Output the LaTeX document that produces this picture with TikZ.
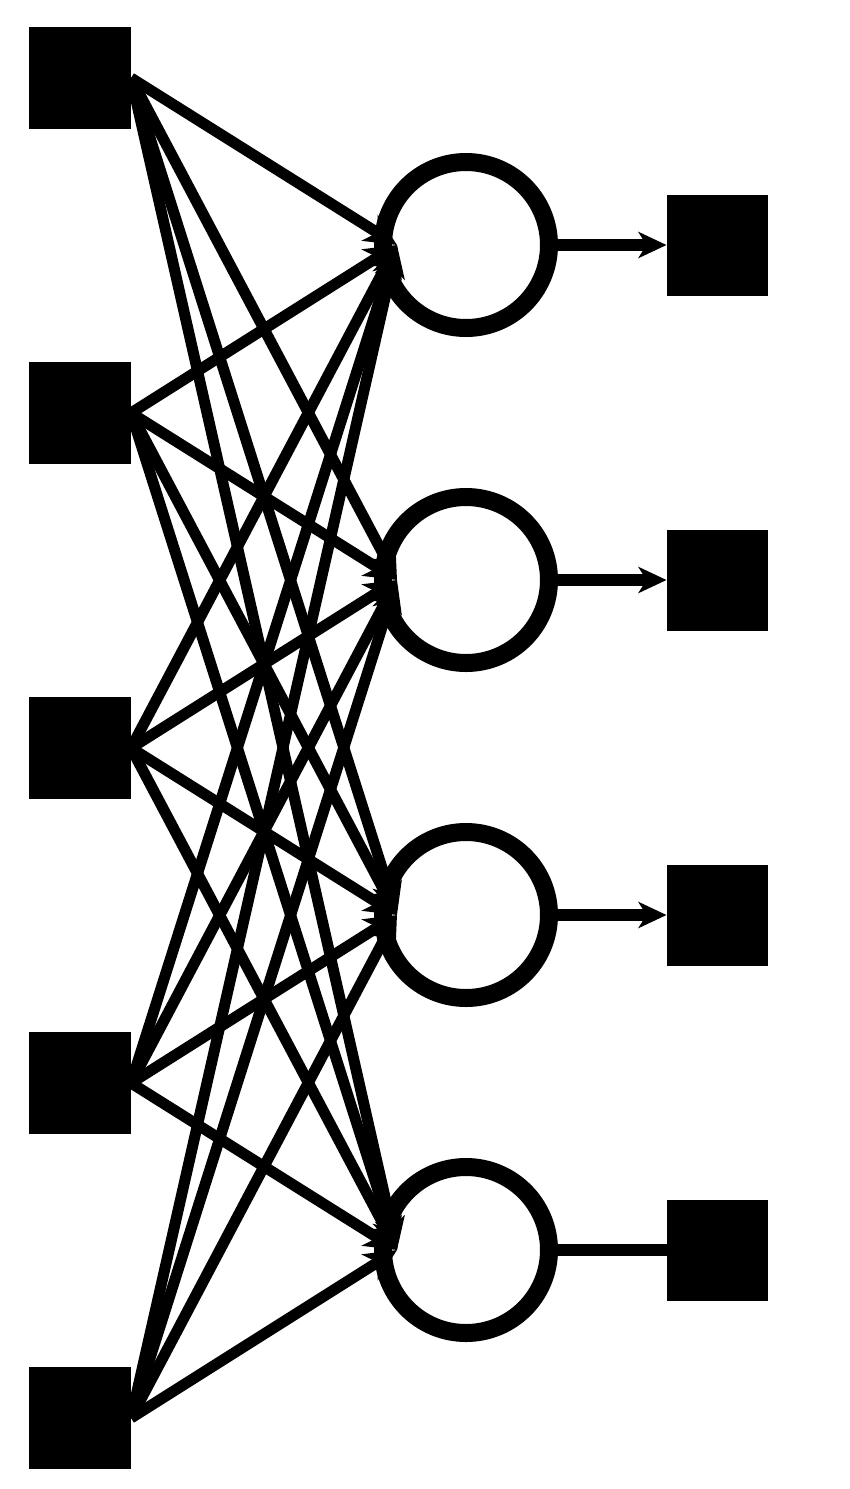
\documentclass[tikz,border=0pt]{standalone}
\usetikzlibrary{arrows.meta}
\begin{document}
\begin{tikzpicture}[x=1pt,y=-1pt,
  inbox/.style={fill=black,draw=none,minimum size=102pt,inner sep=0pt,outer sep=0pt},
  outbox/.style={fill=black,draw=none,minimum size=101pt,inner sep=0pt,outer sep=0pt},
  hid/.style={circle,draw=black,line width=18pt,minimum size=166pt,inner sep=0pt,outer sep=0pt},
  edge/.style={line width=11pt,-{Stealth[length=32pt,width=30pt,inset=9pt]}},
  outedge/.style={line width=12pt,-{Stealth[length=28pt,width=26pt,inset=8pt]}},
  plain/.style={line width=12pt}]
\useasboundingbox (0,0) rectangle (850,1489);
\foreach \k in {1,...,5}{
  \node[inbox] (i\k) at (80,{78+335*(\k-1)}) {};
}
\foreach \k in {1,...,4}{
  \coordinate (t\k) at (397,{245+335*(\k-1)});
  \node[outbox] (o\k) at (717,{245+335*(\k-1)}) {};
}
\foreach \a in {1,...,5}{
  \foreach \b in {1,...,4}{
    \draw[edge] (i\a.east) -- (t\b);
  }
}
\foreach \k in {1,...,4}{
  \node[hid] (h\k) at (466,{245+335*(\k-1)}) {};
}
\foreach \k in {1,2,3}{
  \draw[outedge] ([xshift=9pt]h\k.east) -- (o\k.west);
}
\draw[plain] ([xshift=9pt]h4.east) -- (o4.west);
\end{tikzpicture}
\end{document}
